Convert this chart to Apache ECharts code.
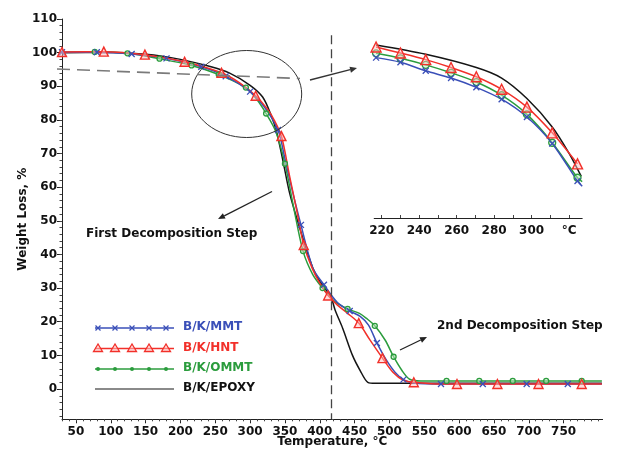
<!DOCTYPE html>
<html>
<head>
<meta charset="utf-8">
<script src="https://cdn.jsdelivr.net/npm/echarts@6/dist/echarts.min.js"></script>
<style>html,body{margin:0;padding:0;background:#fff}#c{width:621px;height:451px}</style>
</head>
<body>
<div id="c"></div>
<script>
// ---------- DATA ----------
const seriesNames = ['B/K/MMT', 'B/K/HNT', 'B/K/OMMT', 'B/K/EPOXY'];
const xTickLabels = [50,100,150,200,250,300,350,400,450,500,550,600,650,700,750];
const yTickLabels = [0,10,20,30,40,50,60,70,80,90,100,110];
const insetTickLabels = [220,240,260,280,300,320];

// main curves [temperature °C, weight %]
const mmtCurve = [[30,100.1],[80,100.1],[130,99.6],[180,98.3],[230,95.8],[265,93.0],[300,88.4],[320,84.0],[340,77.0],[350,68.5],[360,59.5],[373,48.8],[390,36.0],[406,31.0],[425,25.8],[443,23.2],[458,21.6],[470,19.0],[482,13.7],[495,8.8],[508,5.0],[520,2.8],[535,1.8],[574,1.5],[634,1.5],[697,1.5],[756,1.5],[805,1.5]];
const mmtMarkerT = [30,80,130,180,230,265,300,340,373,406,443,482,520,574,634,697,756];

const hntCurve = [[30,100.2],[90,100.3],[149,99.4],[206,97.3],[259,94.0],[285,91.0],[308,87.2],[325,83.2],[335,79.8],[345,75.2],[357,63.0],[367,53.0],[377,42.8],[390,35.5],[400,31.5],[412,27.8],[425,25.0],[440,22.5],[456,19.6],[472,14.6],[490,9.2],[505,5.0],[520,2.6],[535,2.0],[560,1.6],[597,1.5],[655,1.5],[714,1.5],[776,1.5],[805,1.5]];
const hntMarkerT = [30,90,149,206,259,308,345,377,412,456,490,535,597,655,714,776];

const ommtCurve = [[30,100.1],[77,100.2],[124,99.8],[170,98.2],[216,96.2],[255,93.5],[294,89.6],[310,86.0],[323,81.9],[337,76.5],[350,67.0],[363,53.5],[376,41.0],[390,34.0],[404,30.0],[420,26.3],[440,23.8],[457,22.5],[467,21.0],[479,18.8],[494,14.5],[506,9.6],[518,5.5],[529,2.9],[545,2.4],[582,2.4],[629,2.4],[677,2.4],[725,2.4],[776,2.4],[805,2.4]];
const ommtMarkerT = [77,124,170,216,255,294,323,350,376,404,440,479,506,582,629,677,725,776];

const epoxyCurve = [[30,100.0],[90,100.1],[150,99.5],[200,98.0],[240,96.0],[270,94.0],[300,90.3],[318,86.8],[330,81.5],[338,76.5],[347,68.0],[357,58.0],[371,48.0],[380,42.0],[390,36.0],[400,32.0],[410,29.2],[416,27.5],[422,23.5],[433,18.0],[447,10.0],[458,5.5],[469,2.0],[480,1.7],[600,1.7],[805,1.7]];

// inset (zoom of 220–325 °C)
const insetT = [217,230,243.5,257,270.5,284,297.5,311,324.5];
const insetMMT = [94.3,93.6,92.3,91.2,89.8,88.0,85.3,81.3,75.6];
const insetHNT = [95.9,95.0,94.0,92.8,91.4,89.5,86.8,82.9,78.2];
const insetOMMT = [94.95,94.2,93.2,92.0,90.6,88.6,85.7,81.4,76.1];
const insetEpoxyT = [217,243.5,270.5,284,297.5,311,320,326.5];
const insetEpoxy = [96.2,94.8,92.8,91.2,88.1,83.8,79.8,76.3];
const insetEndT = 327;
const insetEndMMT = 74.8, insetEndOMMT = 75.5;

const stepLine = 417;       // vertical dashed separator (°C)
const stepLineTop = 105.2;  // where it starts (%)

// ---------- STYLE ----------
const C = {mmt:'#3a4fb8', hnt:'#f2302a', ommt:'#2b9c3d', epoxy:'#151515', legEpoxy:'#8a8a8a'};
const FONT = '"DejaVu Sans", Verdana, sans-serif';
const xSym = 'path://M0,0L10,10M10,0L0,10';

function build(curve, markers){
  return curve.map(([t,w]) => markers.includes(t) ? [t,w] : {value:[t,w], symbol:'none'});
}
function zip(ts, ws){ return ts.map((t,i)=>[t, ws[i]]); }
const range = (a,b,s)=>{const r=[];for(let v=a;v<=b+1e-9;v+=s)r.push(v);return r;};

const symStyles = {
  mmt: {symbol:xSym, symbolSize:6, itemStyle:{color:C.mmt, borderColor:C.mmt, borderWidth:1.3}},
  hnt: {symbol:'triangle', symbolSize:9, itemStyle:{color:'rgba(255,190,190,0.5)', borderColor:C.hnt, borderWidth:1.4}},
  ommt:{symbol:'circle', symbolSize:5, itemStyle:{color:'rgba(200,240,200,0.5)', borderColor:C.ommt, borderWidth:1.3}}
};

function lineSeries(name, data, color, sym, xi, yi, extra){
  return Object.assign({
    name, type:'line', xAxisIndex:xi, yAxisIndex:yi, data,
    smooth:0.3, showSymbol:!!sym, showAllSymbol:true,
    symbol: sym ? sym.symbol : 'none', symbolSize: sym ? sym.symbolSize : 0,
    itemStyle: sym ? sym.itemStyle : {color},
    lineStyle:{color, width:1.5}, animation:false, silent:true
  }, extra||{});
}

// ---------- ANNOTATIONS ----------
function arrow(x1,y1,x2,y2,color){
  const a=Math.atan2(y2-y1,x2-x1), L=7, W=3;
  const bx=x2-L*Math.cos(a), by=y2-L*Math.sin(a);
  const px=-Math.sin(a)*W, py=Math.cos(a)*W;
  return [
    {type:'line', shape:{x1,y1,x2:bx,y2:by}, style:{stroke:color, lineWidth:1.3}},
    {type:'polygon', shape:{points:[[x2,y2],[bx+px,by+py],[bx-px,by-py]]}, style:{fill:color}}
  ];
}

const graphics = [];
graphics.push({type:'ellipse', shape:{cx:246.7, cy:94, rx:55, ry:43.5}, style:{stroke:'#333', fill:null, lineWidth:1}, z:5});
graphics.push({type:'line', shape:{x1:57,y1:69,x2:300,y2:78.5}, style:{stroke:'#7a7a7a', lineWidth:1.6, lineDash:[13,7]}, z:5});
graphics.push(...arrow(310,80,357,68,'#333'));
graphics.push(...arrow(272,191.5,218,219,'#222'));
graphics.push(...arrow(400,350,427,337,'#222'));
graphics.push({type:'text', left:86, top:228, style:{text:'First Decomposition Step', font:'bold 12px '+FONT, fill:'#111'}});
graphics.push({type:'text', left:437, top:320, style:{text:'2nd Decomposition Step', font:'bold 12px '+FONT, fill:'#111'}});

// legend (drawn)
const legendRows = [
  {name:seriesNames[0], color:C.mmt, text:C.mmt, kind:'x', y:328},
  {name:seriesNames[1], color:C.hnt, text:C.hnt, kind:'tri', y:348.5},
  {name:seriesNames[2], color:C.ommt, text:C.ommt, kind:'dot', y:369},
  {name:seriesNames[3], color:C.legEpoxy, text:'#111', kind:'none', y:389}
];
const legMarkX = [98,115,132,149,166];
legendRows.forEach(r=>{
  graphics.push({type:'line', shape:{x1:95,y1:r.y,x2:174,y2:r.y}, style:{stroke:r.color, lineWidth:r.kind==='none'?1.8:1.4}});
  legMarkX.forEach(x=>{
    if(r.kind==='x'){
      graphics.push({type:'line', shape:{x1:x-2.5,y1:r.y-2.5,x2:x+2.5,y2:r.y+2.5}, style:{stroke:r.color,lineWidth:1.3}});
      graphics.push({type:'line', shape:{x1:x+2.5,y1:r.y-2.5,x2:x-2.5,y2:r.y+2.5}, style:{stroke:r.color,lineWidth:1.3}});
    } else if(r.kind==='tri'){
      graphics.push({type:'polygon', shape:{points:[[x,r.y-4.5],[x-4.5,r.y+3],[x+4.5,r.y+3]]}, style:{stroke:r.color, fill:'rgba(255,200,200,0.5)', lineWidth:1.3}});
    } else if(r.kind==='dot'){
      graphics.push({type:'circle', shape:{cx:x,cy:r.y,r:2}, style:{fill:r.color}});
    }
  });
  graphics.push({type:'text', left:183, top:r.y-7, style:{text:r.name, font:'bold 12px '+FONT, fill:r.text}});
});

// ---------- OPTION ----------
const labelStyle = {fontFamily:FONT, fontWeight:'bold', fontSize:12, color:'#111'};
const option = {
  backgroundColor:'#fff',
  animation:false,
  grid:[
    {left:62, top:19, width:540.6, height:400.3, outerBoundsMode:'none', containLabel:false},
    {left:374.2, top:20, width:208, height:198, outerBoundsMode:'none', containLabel:false}
  ],
  xAxis:[
    {gridIndex:0, type:'value', min:30, max:806, position:'bottom',
     axisLine:{onZero:false, lineStyle:{color:'#222', width:1}},
     axisTick:{customValues:xTickLabels, length:4, lineStyle:{color:'#222'}},
     axisLabel:Object.assign({customValues:xTickLabels, margin:7}, labelStyle),
     splitLine:{show:false},
     name:'Temperature, °C', nameLocation:'middle', nameGap:17, nameMoveOverlap:false,
     nameTextStyle:{fontFamily:FONT, fontWeight:'bold', fontSize:12, color:'#111'}},
    {gridIndex:0, type:'value', min:30, max:806, position:'bottom',
     axisLine:{show:false, onZero:false}, axisLabel:{show:false}, splitLine:{show:false},
     axisTick:{customValues:range(30,800,10), length:2, lineStyle:{color:'#444'}}},
    {gridIndex:1, type:'value', min:216, max:327, position:'bottom',
     axisLine:{onZero:false, lineStyle:{color:'#222', width:1}},
     axisTick:{customValues:range(220,320,10), length:3, inside:true, lineStyle:{color:'#444'}},
     axisLabel:Object.assign({customValues:insetTickLabels, margin:7, formatter:v=>v===320?'°C':String(v)}, labelStyle),
     splitLine:{show:false}}
  ],
  yAxis:[
    {gridIndex:0, type:'value', min:-9, max:110, position:'left',
     axisLine:{show:true, onZero:false, lineStyle:{color:'#222', width:1}},
     axisTick:{show:true, customValues:yTickLabels, length:5, lineStyle:{color:'#222'}},
     axisLabel:Object.assign({customValues:yTickLabels, margin:5}, labelStyle),
     splitLine:{show:false},
     name:'Weight Loss, %', nameLocation:'middle', nameGap:33, nameRotate:90, nameMoveOverlap:false,
     nameTextStyle:{fontFamily:FONT, fontWeight:'bold', fontSize:12, color:'#111'}},
    {gridIndex:0, type:'value', min:-9, max:110, position:'left',
     axisLine:{show:false, onZero:false}, axisLabel:{show:false}, splitLine:{show:false},
     axisTick:{show:true, customValues:range(-8,110,2), length:2.5, lineStyle:{color:'#444'}}},
    {gridIndex:1, type:'value', min:70, max:100, show:false}
  ],
  graphic:graphics,
  series:[
    lineSeries(seriesNames[3], epoxyCurve, C.epoxy, null, 0, 0, {
      markLine:{silent:true, symbol:'none', label:{show:false},
        lineStyle:{color:'#444', type:[9,5], width:1.3},
        data:[[{coord:[stepLine, stepLineTop]},{coord:[stepLine, -9]}]]}}),
    lineSeries(seriesNames[2], build(ommtCurve, ommtMarkerT), C.ommt, symStyles.ommt, 0, 0),
    lineSeries(seriesNames[0], build(mmtCurve, mmtMarkerT), C.mmt, symStyles.mmt, 0, 0),
    lineSeries(seriesNames[1], build(hntCurve, hntMarkerT), C.hnt, symStyles.hnt, 0, 0),

    lineSeries(seriesNames[3]+' (inset)', zip(insetEpoxyT, insetEpoxy), C.epoxy, null, 2, 2),
    lineSeries(seriesNames[2]+' (inset)', zip(insetT, insetOMMT).concat([{value:[insetEndT, insetEndOMMT], symbol:'none'}]), C.ommt,
      Object.assign({}, symStyles.ommt, {symbolSize:7}), 2, 2),
    lineSeries(seriesNames[0]+' (inset)', zip(insetT, insetMMT).concat([{value:[insetEndT, insetEndMMT], symbol:'none'}]), C.mmt, symStyles.mmt, 2, 2),
    lineSeries(seriesNames[1]+' (inset)', zip(insetT, insetHNT), C.hnt, Object.assign({}, symStyles.hnt, {symbolSize:10}), 2, 2)
  ]
};

const chart = echarts.init(document.getElementById('c'), null, {renderer:'canvas'});
chart.setOption(option);
</script>
</body>
</html>
